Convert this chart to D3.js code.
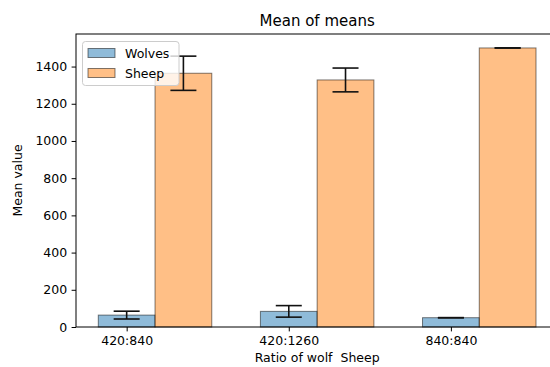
<!DOCTYPE html>
<html>
<head>
<meta charset="utf-8">
<script src="https://cdn.jsdelivr.net/npm/d3@7"></script>
<style>
  html, body { margin: 0; padding: 0; background: #fff; }
  svg { display: block; font-family: "DejaVu Sans", sans-serif; }
</style>
</head>
<body>
<svg id="chart" width="550" height="367"></svg>
<script>
const categories = ["420:840", "420:1260", "840:840"];
const wolvesMean = [64, 84, 50];
const wolvesErr = [21, 31, 0];
const sheepMean = [1364, 1328, 1500];
const sheepErr = [92, 64, 0];
const yTicks = [0, 200, 400, 600, 800, 1000, 1200, 1400];
const seriesNames = ["Wolves", "Sheep"];
const seriesColors = ["#1f77b4", "#ff7f0e"];

(function () {
const barWidth = 0.35;
const svg = d3.select("#chart");
const mLeft = 76, mRight = 558.3, mTop = 34, mBottom = 327;

const x = d3.scaleLinear().domain([-0.3125, 2.6625]).range([mLeft, mRight]);
const y = d3.scaleLinear().domain([0, 1575]).range([mBottom, mTop]);

const series = [
  { name: seriesNames[0], color: seriesColors[0], mean: wolvesMean, err: wolvesErr, offset: 0 },
  { name: seriesNames[1], color: seriesColors[1], mean: sheepMean, err: sheepErr, offset: barWidth }
];

const plot = svg.append("g");

series.forEach(s => {
  plot.selectAll(null).data(categories).enter().append("rect")
    .attr("x", (d, i) => x(i + s.offset - barWidth / 2))
    .attr("width", (d, i) => x(i + s.offset + barWidth / 2) - x(i + s.offset - barWidth / 2))
    .attr("y", (d, i) => y(s.mean[i]))
    .attr("height", (d, i) => y(0) - y(s.mean[i]))
    .attr("fill", s.color)
    .attr("fill-opacity", 0.5)
    .attr("stroke", "#000")
    .attr("stroke-opacity", 0.5)
    .attr("stroke-width", 1);
});

const cap = 13;
series.forEach(s => {
  const g = plot.selectAll(null).data(categories).enter().append("g")
    .attr("stroke", "#111").attr("stroke-width", 1.6);
  g.append("line")
    .attr("x1", (d, i) => x(i + s.offset)).attr("x2", (d, i) => x(i + s.offset))
    .attr("y1", (d, i) => y(s.mean[i] - s.err[i])).attr("y2", (d, i) => y(s.mean[i] + s.err[i]));
  g.append("line")
    .attr("x1", (d, i) => x(i + s.offset) - cap).attr("x2", (d, i) => x(i + s.offset) + cap)
    .attr("y1", (d, i) => y(s.mean[i] + s.err[i])).attr("y2", (d, i) => y(s.mean[i] + s.err[i]));
  g.append("line")
    .attr("x1", (d, i) => x(i + s.offset) - cap).attr("x2", (d, i) => x(i + s.offset) + cap)
    .attr("y1", (d, i) => y(s.mean[i] - s.err[i])).attr("y2", (d, i) => y(s.mean[i] - s.err[i]));
});

// axes
const xAxis = d3.axisBottom(x)
  .tickValues(categories.map((d, i) => i))
  .tickFormat((d, i) => categories[i])
  .tickSize(4.4).tickPadding(4.4);
const yAxis = d3.axisLeft(y)
  .tickValues(yTicks)
  .tickFormat(d3.format("d"))
  .tickSize(4.4).tickPadding(4.4);

const gx = svg.append("g").attr("transform", `translate(0,${mBottom})`).call(xAxis);
const gy = svg.append("g").attr("transform", `translate(${mLeft},0)`).call(yAxis);
[gx, gy].forEach(g => {
  g.select(".domain").remove();
  g.selectAll(".tick line").attr("stroke", "#000").attr("stroke-width", 1);
  g.selectAll(".tick text").attr("fill", "#000")
    .style("font-family", "'DejaVu Sans', sans-serif").style("font-size", "12.5px");
});

// spines
svg.append("rect")
  .attr("x", mLeft).attr("y", mTop)
  .attr("width", mRight - mLeft).attr("height", mBottom - mTop)
  .attr("fill", "none").attr("stroke", "#000").attr("stroke-width", 1);

// title and labels
svg.append("text")
  .attr("x", (mLeft + mRight) / 2).attr("y", 26)
  .attr("text-anchor", "middle")
  .style("font-size", "15px").attr("fill", "#000")
  .text("Mean of means");

svg.append("text")
  .attr("x", (mLeft + mRight) / 2).attr("y", 362)
  .attr("text-anchor", "middle")
  .style("font-size", "12.5px").attr("fill", "#000")
  .style("white-space", "pre").attr("xml:space", "preserve")
  .text("Ratio of wolf  Sheep");

svg.append("text")
  .attr("transform", `translate(22,${(mTop + mBottom) / 2}) rotate(-90)`)
  .attr("text-anchor", "middle")
  .style("font-size", "12.5px").attr("fill", "#000")
  .text("Mean value");

// legend
const lg = svg.append("g");
lg.append("rect")
  .attr("x", 82.5).attr("y", 41.5).attr("width", 96.5).attr("height", 44)
  .attr("rx", 3).attr("ry", 3)
  .attr("fill", "#fff").attr("fill-opacity", 0.8)
  .attr("stroke", "#ccc").attr("stroke-width", 1);
series.forEach((s, k) => {
  const yy = 48.5 + k * 20;
  lg.append("rect")
    .attr("x", 88).attr("y", yy).attr("width", 27).attr("height", 9)
    .attr("fill", s.color).attr("fill-opacity", 0.5)
    .attr("stroke", "#000").attr("stroke-opacity", 0.5).attr("stroke-width", 1);
  lg.append("text")
    .attr("x", 125).attr("y", yy + 9)
    .style("font-size", "12.5px").attr("fill", "#000")
    .text(s.name);
});
})();
</script>
</body>
</html>
